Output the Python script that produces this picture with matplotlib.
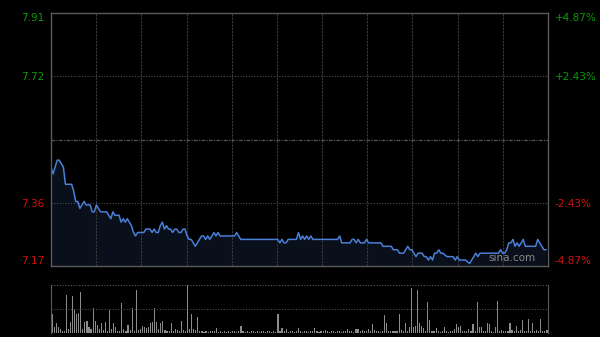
import numpy as np
import matplotlib
matplotlib.use("Agg")
import matplotlib.pyplot as plt

# intraday price, (minute, price) vertices of the line
minutes = [0, 1, 3, 4, 5, 6, 7, 8, 10, 11, 12, 13, 14, 15, 16, 17, 19, 20, 21, 22,
           23, 24, 25, 27, 28, 29, 30, 31, 32, 33, 34, 35, 36, 37, 38, 39, 40, 41, 42, 43,
           45, 46, 48, 49, 50, 51, 52, 53, 54, 55, 56, 57, 58, 59, 60, 61, 62, 63, 64, 65,
           66, 67, 68, 69, 70, 71, 72, 73, 74, 75, 76, 77, 78, 79, 80, 81, 82, 89, 90, 92,
           110, 111, 112, 113, 114, 115, 119, 120, 121, 122, 123, 124, 125, 126, 127, 139, 140, 141, 145, 146,
           147, 148, 149, 150, 152, 153, 154, 160, 161, 165, 166, 168, 169, 170, 171, 172, 173, 174, 175, 176,
           177, 178, 179, 180, 181, 182, 183, 184, 185, 186, 187, 188, 189, 190, 192, 195, 196, 197, 198, 200,
           201, 203, 204, 205, 206, 207, 208, 211, 213, 215, 217, 218, 219, 220, 221, 222, 223, 224, 225, 226,
           227, 228, 229, 230, 231, 232, 234, 235, 236, 237, 239, 240]
prices = [7.46, 7.44, 7.48, 7.48, 7.47, 7.46, 7.41, 7.41, 7.41, 7.39, 7.36, 7.36, 7.34, 7.35, 7.36, 7.35, 7.35, 7.33, 7.33, 7.35,
          7.34, 7.33, 7.33, 7.33, 7.32, 7.31, 7.33, 7.32, 7.32, 7.32, 7.30, 7.31, 7.30, 7.31, 7.30, 7.29, 7.27, 7.26, 7.27, 7.27,
          7.27, 7.28, 7.28, 7.27, 7.28, 7.27, 7.27, 7.29, 7.30, 7.28, 7.29, 7.28, 7.28, 7.27, 7.28, 7.28, 7.27, 7.27, 7.28, 7.28,
          7.26, 7.25, 7.25, 7.24, 7.23, 7.24, 7.25, 7.26, 7.26, 7.25, 7.26, 7.25, 7.26, 7.27, 7.26, 7.27, 7.26, 7.26, 7.27, 7.25,
          7.25, 7.24, 7.25, 7.24, 7.24, 7.25, 7.25, 7.27, 7.25, 7.26, 7.25, 7.26, 7.25, 7.26, 7.25, 7.25, 7.26, 7.24, 7.24, 7.25,
          7.25, 7.24, 7.25, 7.24, 7.24, 7.25, 7.24, 7.24, 7.23, 7.23, 7.22, 7.22, 7.21, 7.21, 7.21, 7.22, 7.23, 7.22, 7.22, 7.21,
          7.20, 7.21, 7.21, 7.21, 7.20, 7.20, 7.19, 7.20, 7.19, 7.21, 7.21, 7.22, 7.21, 7.21, 7.20, 7.20, 7.19, 7.20, 7.19, 7.19,
          7.19, 7.18, 7.19, 7.20, 7.21, 7.20, 7.21, 7.21, 7.21, 7.21, 7.21, 7.22, 7.21, 7.21, 7.22, 7.24, 7.24, 7.25, 7.23, 7.24,
          7.23, 7.24, 7.25, 7.23, 7.23, 7.23, 7.23, 7.23, 7.25, 7.24, 7.22, 7.22]

# per-minute volume (relative, panel top = 100)
volume = [40, 13, 20, 13, 9, 5, 4, 79, 9, 23, 77, 50, 40, 42, 86, 9, 22, 25, 13, 8,
          52, 25, 17, 9, 20, 6, 23, 4, 47, 8, 20, 12, 4, 5, 62, 8, 5, 17, 6, 52,
          5, 90, 6, 8, 15, 13, 11, 12, 20, 23, 52, 23, 9, 20, 25, 6, 4, 5, 20, 5,
          8, 7, 4, 25, 6, 4, 100, 9, 40, 8, 6, 33, 5, 4, 3, 4, 3, 4, 5, 4,
          10, 3, 4, 3, 5, 3, 4, 3, 4, 5, 3, 4, 14, 4, 3, 4, 3, 5, 4, 3,
          4, 3, 5, 4, 3, 4, 5, 3, 4, 3, 40, 5, 10, 4, 8, 3, 5, 4, 3, 4,
          10, 4, 3, 5, 4, 3, 4, 5, 10, 4, 3, 5, 4, 6, 4, 3, 5, 4, 3, 4,
          5, 3, 4, 5, 8, 4, 5, 3, 8, 8, 4, 6, 5, 4, 8, 5, 18, 6, 4, 5,
          3, 4, 37, 20, 5, 4, 5, 4, 5, 39, 6, 4, 20, 4, 13, 94, 12, 15, 90, 20,
          15, 10, 4, 65, 28, 5, 4, 10, 4, 3, 5, 12, 4, 3, 5, 4, 8, 19, 13, 15,
          4, 5, 4, 8, 5, 18, 4, 65, 13, 12, 4, 5, 21, 19, 4, 3, 12, 67, 4, 6,
          4, 5, 4, 21, 6, 4, 15, 5, 6, 28, 5, 4, 30, 5, 21, 4, 6, 4, 30, 5, 4, 6]

prev_close = 7.54
left_labels = ["7.91", "7.72", "7.36", "7.17"]
right_labels = ["+4.87%", "+2.43%", "-2.43%", "-4.87%"]
pct_levels = [0.0487, 0.0243, -0.0243, -0.0487]

GREEN = '#0a9a0a'
RED = '#d01010'
BORDER = '#5a5a5a'
GRID = '#3a3a3a'

fig = plt.figure(figsize=(6, 3.37), dpi=100, facecolor='black')
ax = fig.add_axes([51 / 600, 71 / 337, 497 / 600, 253 / 337], facecolor='black')
axv = fig.add_axes([51 / 600, 4 / 337, 497 / 600, 48 / 337], facecolor='black')

ymax = prev_close * (1 + pct_levels[0])
ymin = prev_close * (1 + pct_levels[-1])
ax.set_xlim(0, 241)
ax.set_ylim(ymin, ymax)

# grid
for k in range(1, 11):
    ax.axvline(241 * k / 11, color=GRID, lw=0.8, ls=(0, (2, 1)))
for p in pct_levels[1:3]:
    ax.axhline(prev_close * (1 + p), color='#4a4a4a', lw=0.8, ls=(0, (1, 1.5)))
ax.axhline(prev_close, color='#555555', lw=0.9, ls=(0, (3, 1, 1, 1)))

# price line + faint fill
ax.fill_between(minutes, prices, ymin, color='#14223c', alpha=0.45, lw=0)
ax.plot(minutes, prices, color='#4a80d8', lw=1.1)

for s in ax.spines.values():
    s.set_color(BORDER)
    s.set_linewidth(1.0)

ticks = [prev_close * (1 + p) for p in pct_levels]
ax.set_yticks(ticks)
ax.set_yticklabels(left_labels)
ax.set_xticks([])
ax.tick_params(axis='y', length=0, pad=5, labelsize=7.5)
for i, t in enumerate(ax.get_yticklabels()):
    t.set_color(GREEN if i < 2 else RED)
ax.get_yticklabels()[0].set_va('top')
ax.get_yticklabels()[-1].set_va('bottom')

axr = ax.twinx()
axr.set_ylim(ymin, ymax)
axr.set_yticks(ticks)
axr.set_yticklabels(right_labels)
axr.tick_params(axis='y', length=0, pad=5, labelsize=7.5)
for s in axr.spines.values():
    s.set_visible(False)
for i, t in enumerate(axr.get_yticklabels()):
    t.set_color(GREEN if i < 2 else RED)
axr.get_yticklabels()[0].set_va('top')
axr.get_yticklabels()[-1].set_va('bottom')

ax.text(0.975, 0.012, "sina.com", transform=ax.transAxes, ha='right', va='bottom',
        color='#8a8a8a', fontsize=7.5)

# volume panel
axv.set_xlim(-0.5, 241.5)
axv.set_ylim(0, 100)
axv.bar(np.arange(len(volume)), volume, width=0.55, color='#8c8c8c', lw=0)
axv.axhline(50, color='#4a4a4a', lw=0.8, ls=(0, (1, 1.5)))
axv.axhline(100, color='#5a5a5a', lw=0.8, ls=(0, (1, 1.5)))
axv.spines['top'].set_visible(False)
axv.spines['bottom'].set_visible(False)
axv.spines['left'].set_color(BORDER)
axv.spines['right'].set_color(BORDER)
axv.set_xticks([])
axv.set_yticks([])

fig.savefig('out.png', dpi=100, facecolor='black')
